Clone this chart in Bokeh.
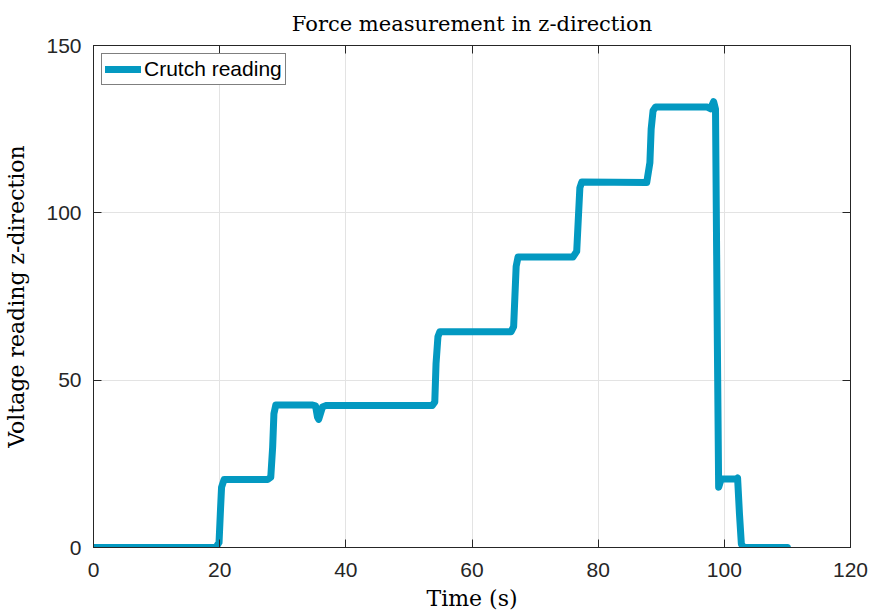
from bokeh.plotting import figure
from bokeh.models import Range1d, LinearAxis, Legend, LegendItem, FixedTicker
from bokeh.embed import file_html
from bokeh.resources import INLINE

# Data
time_s = [0.0, 17.6, 19.4, 19.9, 20.1, 20.3, 20.7, 27.6, 28.1, 28.4, 28.6, 28.9,
          34.6, 35.2, 35.5, 35.7, 35.9, 36.3, 36.8, 53.7, 54.1, 54.3, 54.6, 54.9,
          66.2, 66.6, 66.8, 67.0, 67.3, 76.0, 76.6, 76.9, 77.1, 77.4,
          87.7, 88.2, 88.4, 88.7, 89.1, 97.3, 97.8, 98.3, 98.6, 98.9, 99.1, 99.5,
          101.9, 102.1, 102.4, 102.7, 103.1, 110.0]
reading = [0.0, 0.0, 0.0, 1.5, 10.0, 18.0, 20.3, 20.3, 21.0, 30.0, 40.0, 42.6,
           42.6, 42.3, 39.0, 38.3, 39.5, 42.0, 42.4, 42.4, 43.5, 55.0, 63.0, 64.5,
           64.5, 66.0, 75.0, 84.0, 86.8, 86.8, 88.5, 100.0, 107.5, 109.2,
           109.1, 115.0, 125.0, 130.5, 131.6, 131.6, 131.1, 133.2, 131.0, 60.0, 18.0, 20.5,
           20.5, 20.8, 10.0, 1.0, 0.0, 0.0]

series_name = "Crutch reading"
x_ticks = [0, 20, 40, 60, 80, 100, 120]
y_ticks = [0, 50, 100, 150]

AXC = "#262626"
LINEC = "#0399C1"
SERIF = "DejaVu Serif"
SANS = "Liberation Sans"

p = figure(frame_width=757, frame_height=502, width=869, height=613,
           output_backend="svg", toolbar_location=None,
           x_range=Range1d(0, 120), y_range=Range1d(0, 150),
           min_border_left=93, min_border_right=19, min_border_top=45, min_border_bottom=66,
           title="Force measurement in z-direction")

p.title.align = "center"
p.title.text_font = SERIF
p.title.text_font_size = "21px"
p.title.text_font_style = "normal"
p.title.text_color = "#000000"
p.title.standoff = 19

p.background_fill_color = "white"
p.border_fill_color = "white"
p.outline_line_color = AXC
p.outline_line_width = 1

for ax in (p.xaxis[0], p.yaxis[0]):
    ax.major_label_text_font = SANS
    ax.major_label_text_font_size = "21px"
    ax.major_label_text_color = AXC
    ax.axis_line_color = AXC
    ax.major_tick_line_color = AXC
    ax.major_tick_in = 8
    ax.major_tick_out = 0
    ax.minor_tick_line_color = None
    ax.axis_label_text_font = SERIF
    ax.axis_label_text_font_size = "22px"
    ax.axis_label_text_font_style = "normal"
    ax.axis_label_text_color = "#000000"

p.xaxis[0].ticker = FixedTicker(ticks=x_ticks)
p.yaxis[0].ticker = FixedTicker(ticks=y_ticks)
p.xaxis[0].axis_label = "Time (s)"
p.yaxis[0].axis_label = "Voltage reading z-direction"
p.xaxis[0].major_label_standoff = 15
p.yaxis[0].major_label_standoff = 12
p.xaxis[0].axis_label_standoff = 6
p.yaxis[0].axis_label_standoff = 14

# mirrored tick axes (box on)
def mirror_axis(ticks):
    return LinearAxis(ticker=FixedTicker(ticks=ticks),
                      major_label_overrides={t: "" for t in ticks},
                      major_label_text_font_size="1px",
                      axis_line_color=AXC, major_tick_line_color=AXC, major_tick_in=8,
                      major_tick_out=0, minor_tick_line_color=None, major_label_standoff=0)

p.add_layout(mirror_axis(y_ticks), "right")
p.add_layout(mirror_axis(x_ticks), "above")

p.grid.grid_line_color = "#e3e3e3"
p.grid.grid_line_width = 1
p.xgrid.ticker = FixedTicker(ticks=x_ticks)
p.ygrid.ticker = FixedTicker(ticks=y_ticks)

r = p.line(time_s, reading, line_color=LINEC, line_width=7, line_join="round", line_cap="round")

legend = Legend(items=[LegendItem(label=series_name, renderers=[r])], location="top_left")
legend.label_text_font = SANS
legend.label_text_font_size = "21px"
legend.label_text_color = "#000000"
legend.border_line_color = "#000000"
legend.border_line_width = 1
legend.background_fill_color = "white"
legend.background_fill_alpha = 1
legend.margin = 8
legend.padding = 3
legend.spacing = 0
legend.glyph_width = 36
legend.glyph_height = 24
legend.label_standoff = 3
legend.label_height = 24
p.add_layout(legend)

open("out.html", "w").write(file_html(p, INLINE))
